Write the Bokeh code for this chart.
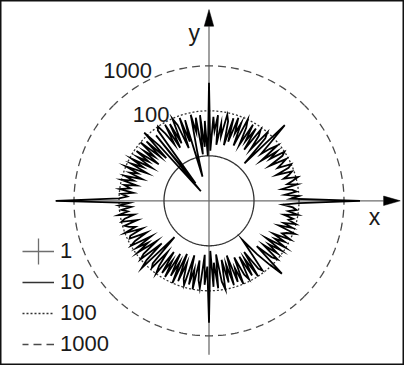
import numpy as np
from bokeh.plotting import figure
from bokeh.models import ColumnDataSource, Legend, LegendItem, Range1d
from bokeh.core.properties import value
from bokeh.embed import file_html
from bokeh.resources import INLINE

# ---------------- data ----------------
angle_step_deg = 1.5        # polar sample spacing (degrees), starting at 0 deg (+x axis)
magnitude = [
    2270, 66, 100, 49, 90, 74, 44, 100, 60, 82,
    111, 54, 74, 90, 40, 82, 100, 49, 66, 90,
    36, 82, 100, 44, 74, 29, 90, 60, 36, 82,
    240, 14, 74, 100, 29, 66, 90, 24, 82, 36,
    90, 26, 66, 100, 22, 74, 40, 90, 24, 82,
    19, 66, 90, 29, 54, 18, 82, 36, 74, 13,
    420, 10, 60, 16, 82, 11, 74, 36, 90, 13,
    3.6, 74, 24, 90, 18, 66, 100, 26, 82, 22,
    90, 29, 60, 100, 86, 3.1, 74, 1.9, 44, 123,
    22, 82, 29, 100, 36, 66, 24, 90, 40, 74,
    29, 90, 44, 82, 32, 100, 49, 74, 36, 90,
    54, 100, 44, 82, 60, 100, 49, 90, 66, 100,
    2510, 60, 100, 54, 90, 66, 111, 49, 82, 100,
    44, 90, 74, 54, 100, 40, 82, 90, 36, 74,
    100, 32, 82, 44, 90, 29, 74, 100, 26, 82,
    129, 13, 74, 90, 29, 66, 100, 24, 82, 36,
    90, 22, 74, 32, 100, 19, 82, 29, 66, 90,
    18, 82, 36, 100, 22, 60, 90, 16, 74, 29,
    515, 13, 82, 24, 90, 16, 66, 100, 22, 74,
    29, 90, 19, 82, 40, 100, 24, 66, 90, 26,
    82, 32, 100, 24, 74, 90, 29, 14, 40, 90,
    195, 29, 74, 100, 36, 82, 44, 90, 32, 100,
    49, 82, 40, 100, 60, 74, 111, 44, 90, 54,
    100, 66, 82, 49, 100, 60, 90, 74, 44, 100,
]
ref_levels = [1, 10, 100, 1000]
ref_labels = ["1", "10", "100", "1000"]
circle_labels = ["1000", "100"]
circle_label_levels = [1000, 100]
axis_labels = ["x", "y"]

# ---------------- layout constants ----------------
W, H = 404, 365
PX_PER_DEC = 45.0
cx_px, cy_px = 208.5, 200.3          # centre inside the frame (from left / top)
FONT = "Liberation Sans"
AX_COL = "#6e6e6e"
LEG_X, LEG_Y, GW, GH, SP = 22, 8, 32, 26, 5

p = figure(width=W, height=H, output_backend="svg", toolbar_location=None,
           x_range=Range1d(-cx_px / PX_PER_DEC, (W - cx_px) / PX_PER_DEC),
           y_range=Range1d(-(H - cy_px) / PX_PER_DEC, cy_px / PX_PER_DEC),
           x_axis_type=None, y_axis_type=None, min_border=0)
p.grid.visible = False
p.background_fill_color = "white"
p.border_fill_color = "white"
p.outline_line_color = "#111111"
p.outline_line_width = 2

# ---------------- axes (the "1" level = origin cross) ----------------
ax_lo, ax_hi, head_len, head_hw = -3.42, 4.25, 0.37, 0.105
ax_src = ColumnDataSource(dict(x0=[ax_lo, 0], y0=[0, ax_lo],
                               x1=[ax_hi - head_len, 0], y1=[0, ax_hi - head_len]))
ax_r = p.segment("x0", "y0", "x1", "y1", source=ax_src, line_color=AX_COL, line_width=1.3)
p.patches(xs=[[ax_hi, ax_hi - head_len, ax_hi - head_len], [0, -head_hw, head_hw]],
          ys=[[0, head_hw, -head_hw], [ax_hi, ax_hi - head_len, ax_hi - head_len]],
          fill_color="black", line_color="black", line_width=0.5)

# ---------------- reference circles ----------------
th = np.linspace(0, 2 * np.pi, 361)
r10 = np.log10(ref_levels[1])
r100 = np.log10(ref_levels[2])
r1000 = np.log10(ref_levels[3])
c10 = p.line(r10 * np.cos(th), r10 * np.sin(th), line_color="#333333", line_width=1.3)
c100 = p.line(r100 * np.cos(th), r100 * np.sin(th), line_color="#333333",
              line_width=1.3, line_dash="2 2")
arcs_x, arcs_y = [], []
for c in [0, 90, 180, 270]:
    t = np.radians(np.linspace(c - 45, c + 45, 91))
    arcs_x.append(list(r1000 * np.cos(t)))
    arcs_y.append(list(r1000 * np.sin(t)))
c1000 = p.multi_line(arcs_x, arcs_y, line_color="#4a4a4a", line_width=1.3,
                     line_dash="8 5", line_dash_offset=2)

# ---------------- data curve ----------------
ang = np.radians(np.arange(len(magnitude)) * angle_step_deg)
rad = np.log10(np.array(magnitude, dtype=float))
xs = np.append(rad * np.cos(ang), rad[0] * np.cos(ang[0]))
ys = np.append(rad * np.sin(ang), rad[0] * np.sin(ang[0]))
p.line(xs, ys, line_color="black", line_width=1.8, line_join="miter")

# ---------------- labels ----------------
lab_ang = np.radians(114)
lr = np.log10(np.array(circle_label_levels, dtype=float))
p.text(x=list(lr * np.cos(lab_ang)), y=list(lr * np.sin(lab_ang)), text=circle_labels,
       text_font=value(FONT), text_font_size="22px", text_color="#1a1a1a",
       text_align="right", text_baseline="middle", x_offset=[-2, -3], y_offset=[-7, -4])
p.text(x=[3.55, -0.2], y=[-0.35, 3.74], text=axis_labels,
       text_font=value(FONT), text_font_size="23px", text_color="#1a1a1a",
       text_align=["left", "right"], text_baseline="middle")

# ---------------- legend ----------------
legend = Legend(items=[
    LegendItem(label=ref_labels[0], renderers=[ax_r]),
    LegendItem(label=ref_labels[1], renderers=[c10]),
    LegendItem(label=ref_labels[2], renderers=[c100]),
    LegendItem(label=ref_labels[3], renderers=[c1000]),
], location=(LEG_X, LEG_Y), glyph_width=GW, glyph_height=GH, label_standoff=6,
    spacing=SP, padding=0, margin=0, border_line_color=None,
    background_fill_alpha=0, label_text_font=FONT, label_text_font_size="22px",
    label_text_color="#1a1a1a", label_height=GH)
p.add_layout(legend)

# vertical stroke of the "+" glyph of the first legend entry (derived from legend layout)
n_rows = len(ref_labels)
leg_h = n_rows * GH + (n_rows - 1) * SP
row0_from_bottom = LEG_Y + leg_h - GH / 2
vx = (LEG_X + GW / 2 - cx_px) / PX_PER_DEC
vy = (row0_from_bottom - (H - cy_px)) / PX_PER_DEC
p.scatter([vx], [vy], marker="dash", angle=np.pi / 2, size=GH,
          line_color=AX_COL, line_width=1.3)

open("out.html", "w").write(file_html(p, INLINE))
